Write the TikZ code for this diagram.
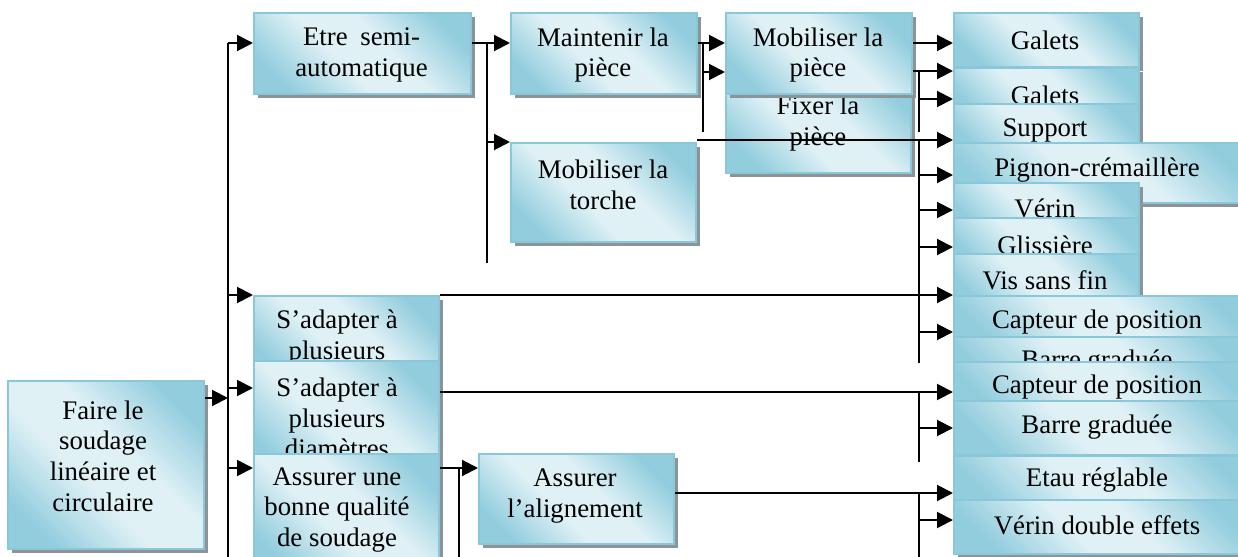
\documentclass[tikz,border=0pt]{standalone}
\usepackage{fontspec}
\setmainfont{Liberation Serif}
\usetikzlibrary{arrows.meta,shadows}

\definecolor{bdark}{RGB}{146,205,221}
\definecolor{blight}{RGB}{224,241,246}
\definecolor{bedge}{RGB}{138,199,217}
\definecolor{bshadow}{RGB}{140,148,152}

% diagonal light band across each block
\pgfdeclarehorizontalshading{boxshade}{100bp}{color(0bp)=(bdark); color(24bp)=(bdark); color(43bp)=(blight); color(57bp)=(blight); color(76bp)=(bdark); color(100bp)=(bdark)}

\tikzset{
  blockbox/.style={draw=bedge, line width=1pt, shading=boxshade, shading angle=45,
    anchor=north west, inner sep=0pt,
    drop shadow={shadow xshift=1.8pt, shadow yshift=-2.2pt, fill=bshadow, opacity=1}},
  blocktext/.style={font=\fontsize{13.4pt}{15.3pt}\selectfont, align=center, inner sep=0pt},
  conn/.style={line width=1pt, black},
  arr/.style={conn, -{Triangle[length=8pt,width=8pt]}},
}

\begin{document}
\begin{tikzpicture}[x=0.5pt,y=-0.5pt]
\useasboundingbox (0,0) rectangle (1238,557);
\fill[white] (0,0) rectangle (1238,557);
\clip (0,0) rectangle (1238,557);

% ---- functions ----
\node[blockbox, minimum width=98pt, minimum height=84pt] (faire) at (7,380) {};
\node[blocktext] (faire-t) at (103,456) {Faire le\\soudage\\linéaire et\\circulaire};

\node[blockbox, minimum width=108.5pt, minimum height=40.5pt] (etre) at (253,12) {};
\node[blocktext] (etre-t) at (361.5,55) {\makebox[58.5pt][s]{Etre semi-}\\automatique};

\node[blockbox, minimum width=93pt, minimum height=40.5pt] (maint) at (510,12) {};
\node[blocktext] (maint-t) at (603,55) {Maintenir la\\pièce};

\node[blockbox, minimum width=92.5pt, minimum height=49.5pt] (mobt) at (510,142) {};
\node[blocktext] (mobt-t) at (603,185) {Mobiliser la\\torche};

\node[blockbox, minimum width=92.5pt, minimum height=48.5pt] (fixer) at (725,75) {};
\node[blocktext] (fixer-t) at (818,123.5) {Fixer la\\pièce};

\node[blockbox, minimum width=93pt, minimum height=40.5pt] (mobp) at (725,12) {};
\node[blocktext] (mobp-t) at (818,55) {Mobiliser la\\pièce};

\node[blockbox, minimum width=92.5pt, minimum height=42.5pt] (sad1) at (253,295) {};
\node[blocktext] (sad1-t) at (337,337.5) {S’adapter à\\plusieurs};

\node[blockbox, minimum width=92.5pt, minimum height=58pt] (sad2) at (253,360) {};
\node[blocktext] (sad2-t) at (337,418) {S’adapter à\\plusieurs\\diamètres};

\node[blockbox, minimum width=92.5pt, minimum height=60pt] (qual) at (253,453) {};
\node[blocktext] (qual-t) at (337,510) {Assurer une\\bonne qualité\\de soudage};

\node[blockbox, minimum width=97.5pt, minimum height=45pt] (align) at (478,453) {};
\node[blocktext] (align-t) at (575,496) {Assurer\\l’alignement};

% ---- solutions column ----
\node[blockbox, minimum width=92.5pt, minimum height=27pt] (gal1) at (953,12) {};
\node[blocktext] (gal1-t) at (1045,40) {Galets};
\node[blockbox, minimum width=92.5pt, minimum height=27pt] (gal2) at (953,67) {};
\node[blocktext] (gal2-t) at (1045,95) {Galets};
\node[blockbox, minimum width=92.5pt, minimum height=27pt] (supp) at (953,103) {};
\node[blocktext] (supp-t) at (1045,130) {Support};
\node[blockbox, minimum width=150pt, minimum height=30pt] (pign) at (953,142) {};
\node[blocktext] (pign-t) at (1097,170) {Pignon-crémaillère};
\node[blockbox, minimum width=92.5pt, minimum height=27pt] (verin) at (953,182) {};
\node[blocktext] (verin-t) at (1045,208) {Vérin};
\node[blockbox, minimum width=92.5pt, minimum height=27pt] (gliss) at (953,217) {};
\node[blocktext] (gliss-t) at (1045,245) {Glissière};
\node[blockbox, minimum width=92.5pt, minimum height=27pt] (vis) at (953,253) {};
\node[blocktext] (vis-t) at (1045,280) {Vis sans fin};
\node[blockbox, minimum width=150pt, minimum height=27pt] (capt1) at (953,295) {};
\node[blocktext] (capt1-t) at (1097,322) {Capteur de position};
\node[blockbox, minimum width=150pt, minimum height=27pt] (barre1) at (953,336) {};
\node[blocktext] (barre1-t) at (1097,362) {Barre graduée};
\node[blockbox, minimum width=150pt, minimum height=27pt] (capt2) at (953,361) {};
\node[blocktext] (capt2-t) at (1097,387) {Capteur de position};
\node[blockbox, minimum width=150pt, minimum height=27pt] (barre2) at (953,400) {};
\node[blocktext] (barre2-t) at (1097,427) {Barre graduée};
\node[blockbox, minimum width=150pt, minimum height=27pt] (etau) at (953,455) {};
\node[blocktext] (etau-t) at (1097,480) {Etau réglable};
\node[blockbox, minimum width=150pt, minimum height=27pt] (verind) at (953,499) {};
\node[blocktext] (verind-t) at (1097,525) {Vérin double effets};

% ---- junction points ----
\coordinate (trunkTop) at (228,43);
\coordinate (trunkBot) at (228,557);
\coordinate (faireIn) at (228,398);
\coordinate (sad2In) at (253,388);
\coordinate (qualIn) at (253,468);
\coordinate (bus1Top) at (487,43);
\coordinate (bus1Bot) at (487,263);
\coordinate (bus2Top) at (703,43);
\coordinate (bus2Bot) at (703,132);
\coordinate (mobpIn) at (725,72);
\coordinate (bus5Top) at (459,468);
\coordinate (bus5Bot) at (459,557);
\coordinate (alignIn) at (478,468);
% arrow ends on the solutions column
\coordinate (inA) at (953,43);
\coordinate (inB) at (953,71);
\coordinate (inC) at (953,99);
\coordinate (inD) at (953,140);
\coordinate (inE) at (953,175);
\coordinate (inF) at (953,210);
\coordinate (inG) at (953,247);
\coordinate (inH) at (953,295);
\coordinate (inI) at (953,332);
\coordinate (inJ) at (953,392);
\coordinate (inK) at (953,428);
\coordinate (inL) at (953,493);
\coordinate (inM) at (953,520);
\coordinate (colA) at (919,71);
\coordinate (colB) at (919,132);
\coordinate (colC) at (919,140);
\coordinate (colD) at (919,363);
\coordinate (colE) at (919,392);
\coordinate (colF) at (919,462);
\coordinate (colG) at (919,493);
\coordinate (colH) at (919,557);

% ---- connectors ----
\draw[conn] (trunkTop) -- (trunkBot);
\draw[arr] (faire.east |- faireIn) -- (faireIn);
\draw[arr] (trunkTop) -- (etre.west |- trunkTop);
\draw[arr] (trunkTop |- sad1.north west) -- (sad1.north west);
\draw[arr] (trunkTop |- sad2In) -- (sad2In);
\draw[arr] (trunkTop |- qualIn) -- (qualIn);

\draw[arr] (etre.east |- bus1Top) -- (maint.west |- bus1Top);
\draw[conn] (bus1Top) -- (bus1Bot);
\draw[arr] (bus1Top |- mobt.north west) -- (mobt.north west);

\draw[arr] (maint.east |- bus2Top) -- (mobp.west |- bus2Top);
\draw[conn] (bus2Top) -- (bus2Bot);
\draw[arr] (bus2Top |- mobpIn) -- (mobpIn);

\draw[arr] (mobp.east |- inA) -- (inA);
\draw[arr] (mobp.east |- inB) -- (inB);
\draw[conn] (colA) -- (colB);
\draw[arr] (colA |- inC) -- (inC);

\draw[arr] (mobt.east |- inD) -- (inD);
\draw[conn] (colC) -- (colD);
\draw[arr] (colC |- inE) -- (inE);
\draw[arr] (colC |- inF) -- (inF);
\draw[arr] (colC |- inG) -- (inG);
\draw[arr] (sad1.north east) -- (inH);
\draw[arr] (colC |- inI) -- (inI);

\draw[arr] (sad2.east |- inJ) -- (inJ);
\draw[conn] (colE) -- (colF);
\draw[arr] (colE |- inK) -- (inK);

\draw[arr] (qual.east |- alignIn) -- (alignIn);
\draw[conn] (bus5Top) -- (bus5Bot);
\draw[arr] (align.east |- inL) -- (inL);
\draw[conn] (colG) -- (colH);
\draw[arr] (colG |- inM) -- (inM);
\end{tikzpicture}
\end{document}
